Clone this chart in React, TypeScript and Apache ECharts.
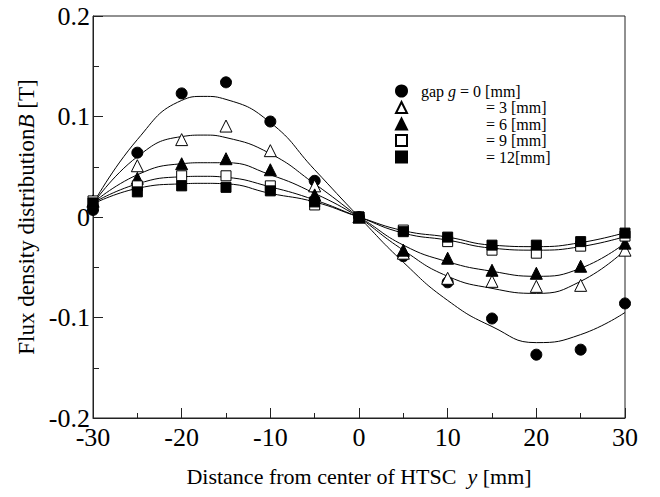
import React, { useEffect, useRef } from "react";
import * as echarts from "echarts";

const xPoints = [-30, -25, -20, -15, -10, -5, 0, 5, 10, 15, 20, 25, 30];
const gap0 = [0.007, 0.064, 0.123, 0.134, 0.095, 0.036, 0, -0.039, -0.065, -0.101, -0.137, -0.132, -0.086];
const gap3 = [0.015, 0.051, 0.077, 0.0905, 0.066, 0.031, 0, -0.036, -0.061, -0.064, -0.069, -0.068, -0.033];
const gap6 = [0.016, 0.0385, 0.053, 0.058, 0.047, 0.022, 0, -0.033, -0.041, -0.053, -0.056, -0.049, -0.026];
const gap9 = [0.016, 0.031, 0.041, 0.041, 0.031, 0.012, 0, -0.013, -0.0245, -0.033, -0.036, -0.029, -0.019];
const gap12 = [0.014, 0.025, 0.031, 0.0295, 0.026, 0.015, 0, -0.0146, -0.02, -0.028, -0.028, -0.0245, -0.016];

const curveX = [-30, -25, -20, -17.5, -15, -10, -5, 0, 5, 10, 15, 20, 25, 30];
const fit0 = [0.013, 0.077, 0.116, 0.12, 0.117, 0.094, 0.047, 0, -0.045, -0.083, -0.109, -0.125, -0.117, -0.095];
const fit3 = [0.013, 0.06, 0.08, 0.0815, 0.079, 0.063, 0.033, 0, -0.033, -0.059, -0.071, -0.076, -0.064, -0.033];
const fit6 = [0.014, 0.042, 0.053, 0.054, 0.054, 0.042, 0.0235, 0, -0.028, -0.0445, -0.054, -0.059, -0.051, -0.026];
const fit9 = [0.014, 0.033, 0.04, 0.0405, 0.0395, 0.03, 0.017, 0, -0.016, -0.023, -0.031, -0.033, -0.0295, -0.0195];
const fit12 = [0.013, 0.0285, 0.033, 0.0335, 0.033, 0.0235, 0.015, 0, -0.0136, -0.02, -0.028, -0.0295, -0.0255, -0.0156];

const seriesNames = ["gap g = 0 [mm]", "= 3 [mm]", "= 6 [mm]", "= 9 [mm]", "= 12[mm]"];
const legendLabels = [
  "{p|}{a|gap }{i|g}{a| = 0 [mm]}",
  "{q|}{a|= 3 [mm]}",
  "{q|}{a|= 6 [mm]}",
  "{q|}{a|= 9 [mm]}",
  "{q|}{a|= 12[mm]}",
];

const FONT = "'Liberation Serif', 'Times New Roman', serif";

export default function App() {
  const ref = useRef<HTMLDivElement>(null);
  useEffect(() => {
    if (!ref.current) return;
    const chart = echarts.init(ref.current, null, { renderer: "svg" });
    const pts = (ys: number[]) => xPoints.map((x, i) => [x, ys[i]]);
    const crv = (ys: number[]) => curveX.map((x, i) => [x, ys[i]]);
    const markerDefs = [
      { data: gap0, symbol: "circle", size: 11, fill: "#000" },
      { data: gap3, symbol: "triangle", size: 12, fill: "#fff" },
      { data: gap6, symbol: "triangle", size: 12, fill: "#000" },
      { data: gap9, symbol: "rect", size: 10, fill: "#fff" },
      { data: gap12, symbol: "rect", size: 10, fill: "#000" },
    ];
    const fits = [fit0, fit3, fit6, fit9, fit12];
    const series: any[] = [];
    fits.forEach((f, i) => {
      series.push({
        type: "line",
        name: "fit" + i,
        data: crv(f),
        smooth: true,
        showSymbol: false,
        symbol: "none",
        lineStyle: { color: "#000", width: 1 },
        z: 2,
      });
    });
    markerDefs.forEach((m, i) => {
      series.push({
        type: "scatter",
        name: seriesNames[i],
        data: pts(m.data),
        symbol: m.symbol,
        symbolSize: m.size,
        itemStyle: { color: m.fill, borderColor: "#000", borderWidth: 1, opacity: 1 },
        z: 3,
      });
    });
    const richBase = { fontFamily: FONT, fontSize: 16, color: "#000", lineHeight: 16 };
    chart.setOption({
      animation: false,
      backgroundColor: "#fff",
      grid: {
        left: 93,
        right: 35,
        top: 16,
        bottom: 79,
        show: true,
        borderColor: "#222",
        borderWidth: 1,
        backgroundColor: "transparent",
      },
      legend: {
        data: seriesNames,
        orient: "vertical",
        left: 395,
        top: 83,
        itemWidth: 11,
        itemHeight: 11,
        itemGap: 0.5,
        padding: 0,
        formatter: (name: string) => legendLabels[seriesNames.indexOf(name)],
        textStyle: {
          ...richBase,
          rich: {
            a: { ...richBase },
            i: { ...richBase, fontStyle: "italic" },
            p: { width: 9, height: 16 },
            q: { width: 74, height: 16 },
          },
        },
      },
      xAxis: {
        type: "value",
        min: -30,
        max: 30,
        interval: 10,
        name: "Distance from center of HTSC  {i|y} [mm]",
        nameLocation: "middle",
        nameGap: 47,
        nameTextStyle: {
          fontFamily: FONT,
          fontSize: 22,
          color: "#000",
          rich: {
            i: { fontFamily: FONT, fontSize: 22, fontStyle: "italic", color: "#000" },
          },
        },
        axisLine: { show: true, onZero: false, lineStyle: { color: "#222", width: 1 } },
        axisTick: { show: true, inside: true, length: 10, lineStyle: { color: "#222" } },
        minorTick: { show: true, splitNumber: 2, length: 5, lineStyle: { color: "#222" } },
        splitLine: { show: false },
        axisLabel: { fontFamily: FONT, fontSize: 26, color: "#000", margin: 6 },
      },
      yAxis: {
        type: "value",
        min: -0.2,
        max: 0.2,
        interval: 0.1,
        name: "Flux density distribution{i|B} [T]",
        nameLocation: "middle",
        nameRotate: 90,
        nameGap: 54,
        nameTextStyle: {
          fontFamily: FONT,
          fontSize: 23,
          color: "#000",
          rich: {
            i: { fontFamily: FONT, fontSize: 23, fontStyle: "italic", color: "#000" },
          },
        },
        axisLine: { show: true, onZero: false, lineStyle: { color: "#222", width: 1 } },
        axisTick: { show: true, inside: true, length: 10, lineStyle: { color: "#222" } },
        minorTick: { show: true, splitNumber: 2, length: 6, lineStyle: { color: "#222" } },
        splitLine: { show: false },
        axisLabel: {
          fontFamily: FONT,
          fontSize: 26,
          color: "#000",
          margin: 3,
          formatter: (v: number) => (Math.abs(v) < 1e-9 ? "0" : String(Math.round(v * 10) / 10)),
        },
      },
      series,
    });
    return () => chart.dispose();
  }, []);
  return <div ref={ref} style={{ width: 660, height: 497, position: "absolute", left: 0, top: 0 }} />;
}
